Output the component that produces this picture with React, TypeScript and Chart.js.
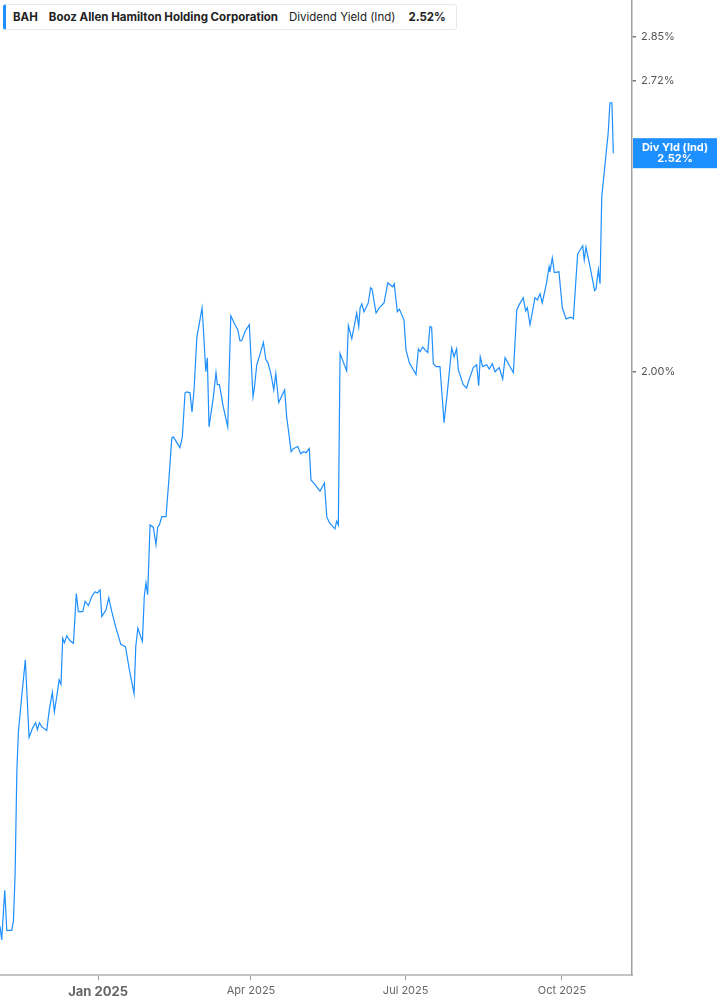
import React, { useEffect, useRef } from 'react';
import { Chart, registerables } from 'chart.js';

Chart.register(...registerables);

// días desde el 1 de enero de 2025
const days = [
  -57.7, -56.7, -54.9, -53.7, -50.8, -49.8, -48.8, -47.8, -46.9, -44.9,
  -42.8, -40.6, -38.4, -36.7, -35.7, -34.5, -33.1, -30.2, -28.7, -26.9,
  -25.7, -24.3, -22.9, -21.8, -20.8, -19.8, -18.4, -16.5, -14.5, -12.8,
  -11.6, -9.0, -7.6, -5.7, -3.7, -1.8, -0.4, 1.2, 2.2, 4.7,
  6.3, 8.1, 10.0, 13.4, 16.1, 18.4, 21.2, 22.2, 23.4, 26.1,
  27.2, 28.2, 29.2, 30.6, 32.5, 34.1, 35.1, 36.1, 37.5, 40.0,
  41.8, 43.4, 44.3, 48.2, 49.6, 51.2, 52.2, 54.1, 55.3, 56.5,
  58.1, 61.2, 62.0, 63.4, 64.3, 65.3, 67.8, 69.4, 70.2, 71.4,
  73.7, 76.3, 78.1, 80.6, 82.2, 83.5, 84.5, 86.5, 89.0, 91.2,
  92.0, 93.4, 95.3, 97.3, 98.7, 100.0, 101.8, 103.4, 104.6, 106.3,
  109.8, 111.0, 112.0, 113.6, 114.9, 117.5, 119.3, 120.8, 122.4, 124.3,
  125.3, 127.7, 130.6, 133.2, 134.6, 136.1, 139.4, 140.4, 141.4, 142.4,
  146.3, 147.3, 149.3, 152.2, 153.4, 154.2, 155.2, 156.5, 159.0, 160.4,
  161.2, 163.6, 165.5, 168.3, 170.5, 173.4, 174.3, 176.1, 177.3, 180.0,
  181.2, 183.2, 187.1, 188.5, 189.6, 191.0, 194.0, 195.3, 196.3, 197.3,
  198.9, 201.2, 203.6, 205.5, 208.1, 209.5, 211.0, 212.0, 214.9, 216.9,
  218.3, 220.8, 222.8, 224.0, 224.9, 226.3, 228.7, 230.2, 232.0, 233.6,
  236.1, 238.1, 239.5, 244.4, 246.4, 247.7, 250.2, 251.6, 252.6, 254.2,
  257.1, 258.5, 260.1, 261.4, 264.0, 265.4, 265.9, 267.3, 268.5, 271.2,
  273.2, 275.4, 278.3, 279.7, 282.2, 285.2, 286.1, 287.1, 289.5, 292.2,
  293.0, 294.4, 295.4, 296.4, 297.7, 300.2, 301.2, 302.4, 303.2,
];

// rendimiento por dividendo (%)
const yields = [
  1.113, 1.097, 1.156, 1.108, 1.108, 1.119, 1.177, 1.309, 1.366, 1.419,
  1.475, 1.359, 1.373, 1.380, 1.370, 1.380, 1.374, 1.369, 1.399, 1.425,
  1.396, 1.419, 1.444, 1.437, 1.509, 1.502, 1.513, 1.505, 1.501, 1.582,
  1.552, 1.552, 1.569, 1.562, 1.577, 1.585, 1.583, 1.588, 1.544, 1.555,
  1.575, 1.552, 1.531, 1.499, 1.496, 1.460, 1.423, 1.496, 1.525, 1.504,
  1.577, 1.600, 1.580, 1.701, 1.697, 1.666, 1.697, 1.701, 1.716, 1.716,
  1.790, 1.865, 1.867, 1.846, 1.867, 1.956, 1.958, 1.956, 1.917, 1.962,
  2.073, 2.140, 2.091, 2.000, 2.030, 1.887, 1.946, 1.998, 1.973, 1.973,
  1.927, 1.887, 2.122, 2.102, 2.091, 2.067, 2.067, 2.087, 2.102, 1.948,
  1.966, 2.015, 2.037, 2.063, 2.026, 2.019, 1.994, 1.962, 1.996, 1.936,
  1.962, 1.907, 1.881, 1.838, 1.844, 1.848, 1.834, 1.838, 1.836, 1.844,
  1.784, 1.775, 1.763, 1.778, 1.716, 1.705, 1.694, 1.708, 1.701, 2.039,
  2.002, 2.100, 2.071, 2.128, 2.098, 2.140, 2.149, 2.131, 2.151, 2.186,
  2.183, 2.128, 2.140, 2.151, 2.197, 2.188, 2.195, 2.131, 2.137, 2.113,
  2.047, 2.019, 1.994, 2.049, 2.043, 2.053, 2.041, 2.098, 2.096, 2.017,
  2.011, 2.011, 1.895, 1.956, 2.051, 2.032, 2.049, 2.004, 1.973, 1.966,
  1.983, 2.009, 2.015, 1.971, 2.032, 2.011, 2.015, 2.006, 2.017, 2.000,
  2.009, 1.985, 2.030, 1.998, 2.135, 2.146, 2.163, 2.133, 2.140, 2.102,
  2.163, 2.158, 2.172, 2.151, 2.199, 2.235, 2.223, 2.256, 2.221, 2.223,
  2.140, 2.115, 2.119, 2.115, 2.265, 2.285, 2.251, 2.282, 2.235, 2.179,
  2.183, 2.228, 2.195, 2.406, 2.463, 2.575, 2.658, 2.658, 2.52,
];

const yTicks = [2.0, 2.72, 2.85];
const xTicks = [0, 90, 181, 273];
const xTickLabels = ['Jan 2025', 'Apr 2025', 'Jul 2025', 'Oct 2025'];

const ticker = 'BAH';
const company = 'Booz Allen Hamilton Holding Corporation';
const metric = 'Dividend Yield (Ind)';
const lastLabel = 'Div Yld (Ind)';
const lastValue = yields[yields.length - 1];

const BLUE = '#1e8fff';
const FONT = 'Inter, "Noto Sans", sans-serif';

const lastValuePlugin = {
  id: 'lastValueTag',
  afterDraw(chart: any) {
    const { ctx, chartArea, scales } = chart;
    const y = scales.y.getPixelForValue(lastValue);
    const x0 = chartArea.right + 1;
    const cx = (x0 + chart.width) / 2;
    ctx.save();
    ctx.fillStyle = BLUE;
    ctx.fillRect(x0, y - 15, chart.width - x0, 30);
    ctx.fillStyle = '#fff';
    ctx.font = `bold 11px ${FONT}`;
    ctx.textAlign = 'center';
    ctx.textBaseline = 'middle';
    ctx.fillText(lastLabel, cx, y - 5);
    ctx.fillText(lastValue.toFixed(2) + '%', cx, y + 6);
    ctx.restore();
  },
};

const App: React.FC = () => {
  const canvasRef = useRef<HTMLCanvasElement>(null);
  const chartRef = useRef<Chart | null>(null);

  useEffect(() => {
    if (!canvasRef.current) return;
    const ctx = canvasRef.current.getContext('2d');
    if (!ctx) return;

    chartRef.current = new Chart(ctx, {
      type: 'line',
      data: {
        datasets: [{
          label: metric,
          data: days.map((d, i) => ({ x: d, y: yields[i] })),
          borderColor: BLUE,
          borderWidth: 1.2,
          pointRadius: 0,
          tension: 0,
          fill: false,
        }],
      },
      options: {
        responsive: true,
        maintainAspectRatio: false,
        animation: false,
        layout: { padding: 0 },
        plugins: {
          legend: { display: false },
          tooltip: { enabled: false },
        },
        scales: {
          x: {
            type: 'linear',
            min: -57.7,
            max: 314.2,
            afterBuildTicks: (scale: any) => {
              scale.ticks = xTicks.map(v => ({ value: v }));
            },
            afterFit: (scale: any) => {
              scale.height = 30;
              scale.paddingLeft = 0;
              scale.paddingRight = 0;
            },
            grid: {
              drawOnChartArea: false,
              tickLength: 5,
              color: '#999',
            },
            border: { color: '#c4c4c4', width: 2 },
            ticks: {
              autoSkip: false,
              maxRotation: 0,
              padding: 4,
              color: '#666',
              font: (c: any) => c.index === 0
                ? { family: FONT, size: 13, weight: 'bold' }
                : { family: FONT, size: 11 },
              callback: (v: any) => {
                const i = xTicks.indexOf(Number(v));
                return i >= 0 ? xTickLabels[i] : '';
              },
            },
          },
          y: {
            type: 'logarithmic',
            position: 'right',
            min: 1.057,
            max: 2.963,
            afterBuildTicks: (scale: any) => {
              scale.ticks = yTicks.map(v => ({ value: v }));
            },
            afterFit: (scale: any) => {
              scale.width = 85;
              scale.paddingTop = 0;
              scale.paddingBottom = 0;
            },
            grid: {
              drawOnChartArea: false,
              tickLength: 4,
              color: '#777',
              lineWidth: 1.5,
            },
            border: { color: '#a0a0a0', width: 1.5 },
            ticks: {
              padding: 5,
              color: '#555',
              font: { family: FONT, size: 11 },
              callback: (v: any) => Number(v).toFixed(2) + '%',
            },
          },
        },
      },
      plugins: [lastValuePlugin],
    });

    return () => {
      if (chartRef.current) {
        chartRef.current.destroy();
        chartRef.current = null;
      }
    };
  }, []);

  return (
    <div style={{ position: 'absolute', left: 0, top: 0, width: 717, height: 1005, background: '#fff', fontFamily: FONT }}>
      <canvas ref={canvasRef}></canvas>
      <div
        style={{
          position: 'absolute',
          left: 3,
          top: 4,
          width: 454,
          height: 26,
          boxSizing: 'border-box',
          background: '#fff',
          border: '1px solid #e8e8e8',
          borderLeft: `3px solid ${BLUE}`,
          borderRadius: 3,
          display: 'flex',
          alignItems: 'center',
          paddingLeft: 7,
          fontSize: 11.5,
          color: '#222',
          whiteSpace: 'nowrap',
        }}
      >
        <span style={{ fontWeight: 700, marginRight: 11 }}>{ticker}</span>
        <span style={{ fontWeight: 700, marginRight: 11 }}>{company}</span>
        <span style={{ marginRight: 13 }}>{metric}</span>
        <span style={{ fontWeight: 700 }}>{lastValue.toFixed(2)}%</span>
      </div>
    </div>
  );
};

export default App;
